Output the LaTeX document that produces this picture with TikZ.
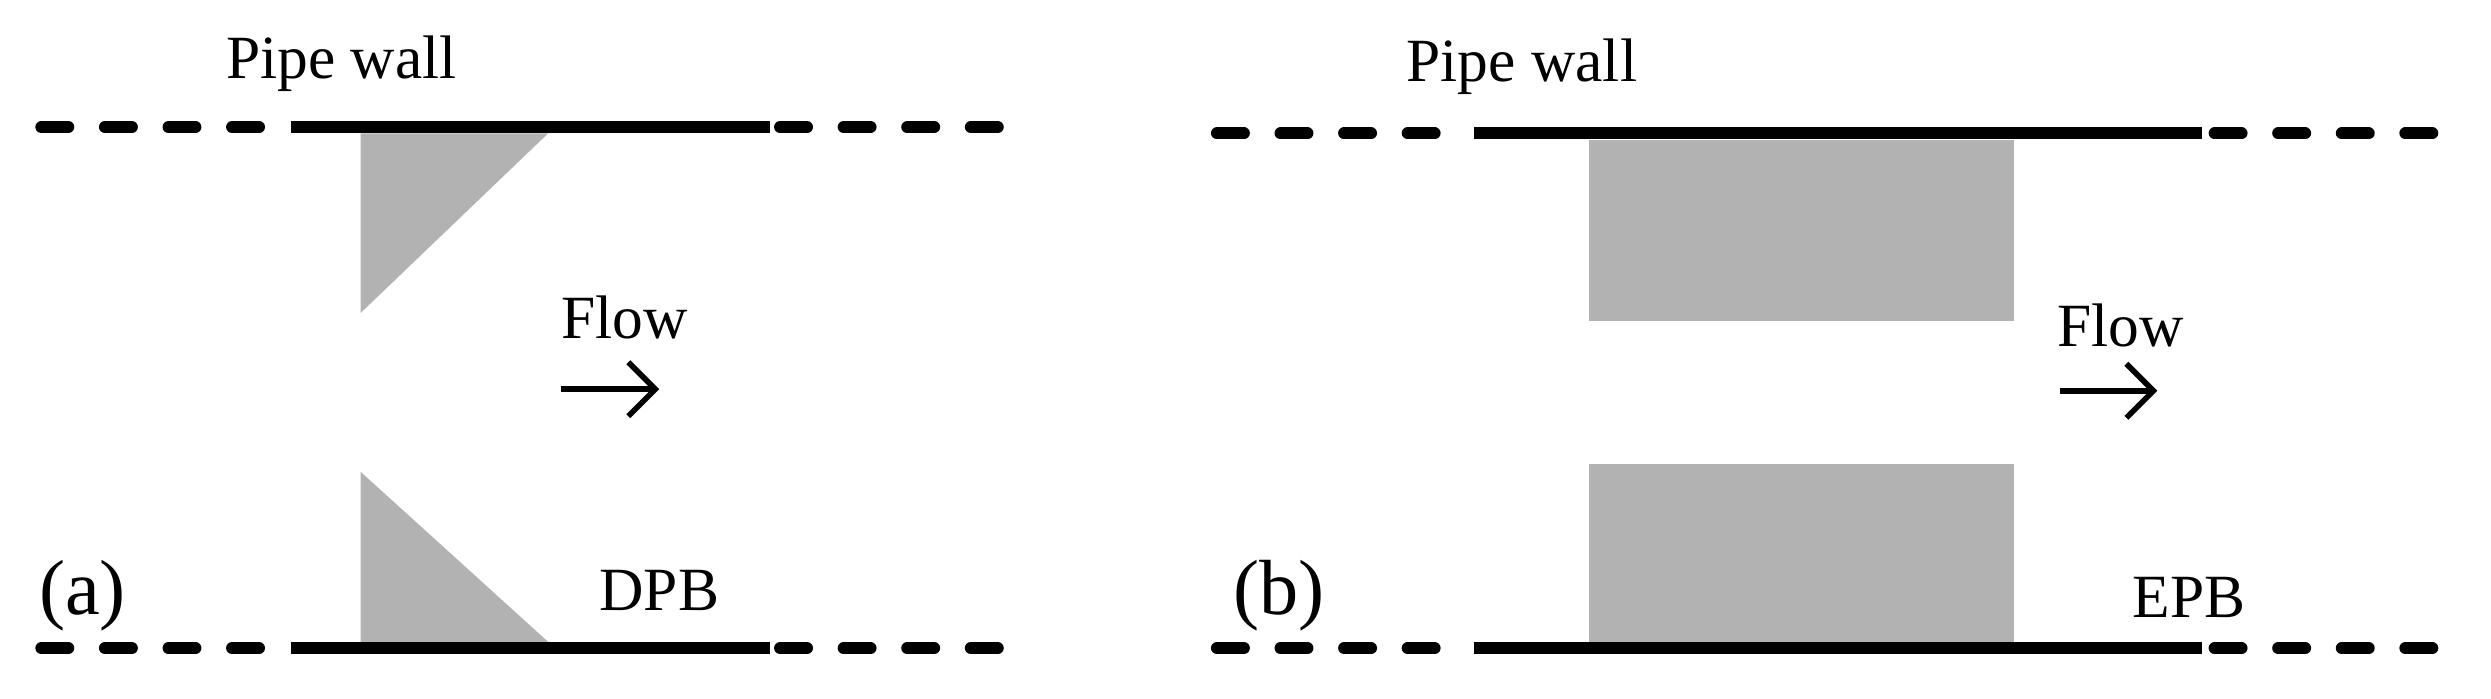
\documentclass[tikz,border=0pt]{standalone}
\usepackage{fontspec}
\setmainfont{Liberation Serif}
\usetikzlibrary{arrows.meta}
\begin{document}
\begin{tikzpicture}[x=0.01cm,y=-0.01cm,
  wall/.style={line width=0.075cm},
  dsh/.style={line width=0.075cm,line cap=round,dash pattern=on 0.17cm off 0.23cm},
  blk/.style={fill=black!30,draw=none},
  flw/.style={-{Straight Barb[length=0.17cm,width=0.34cm]},line width=1pt},
  lbl/.style={font=\fontsize{11}{13}\selectfont,inner sep=0pt}]
\useasboundingbox (0,0) rectangle (1568,440);
% panel (a)
\draw[dsh] (26,80) -- (178,80);
\draw[dsh] (491,80) -- (643,80);
\draw[dsh] (26,408) -- (178,408);
\draw[dsh] (491,408) -- (643,408);
\fill[blk] (227,84) -- (345,84) -- (227,197) -- cycle;
\fill[blk] (227,297) -- (227,404) -- (345,404) -- cycle;
\draw[wall] (183,80) -- (485,80);
\draw[wall] (183,408) -- (485,408);
\node[lbl] (pw1) at (215,40) {Pipe wall};
\node[lbl] (f1) at (393,200) {Flow};
\coordinate (a1s) at (353,245); \coordinate (a1e) at (415,245);
\draw[flw] (a1s) -- (a1e);
\node[lbl] (dpb) at (415,372) {DPB};
\node[lbl] (la) at (52,375) {\fontsize{14}{16}\selectfont(a)};
% panel (b)
\draw[dsh] (766,84) -- (922,84);
\draw[dsh] (1394,84) -- (1545,84);
\draw[dsh] (766,408) -- (922,408);
\draw[dsh] (1394,408) -- (1545,408);
\fill[blk] (1000,88) rectangle (1268,202);
\fill[blk] (1000,292) rectangle (1268,405);
\draw[wall] (928,84) -- (1386,84);
\draw[wall] (928,408) -- (1386,408);
\node[lbl] (pw2) at (958,42) {Pipe wall};
\node[lbl] (f2) at (1335,205) {Flow};
\coordinate (a2s) at (1297,246); \coordinate (a2e) at (1358,246);
\draw[flw] (a2s) -- (a2e);
\node[lbl] (epb) at (1378,376) {EPB};
\node[lbl] (lb) at (805,375) {\fontsize{14}{16}\selectfont(b)};
\end{tikzpicture}
\end{document}
